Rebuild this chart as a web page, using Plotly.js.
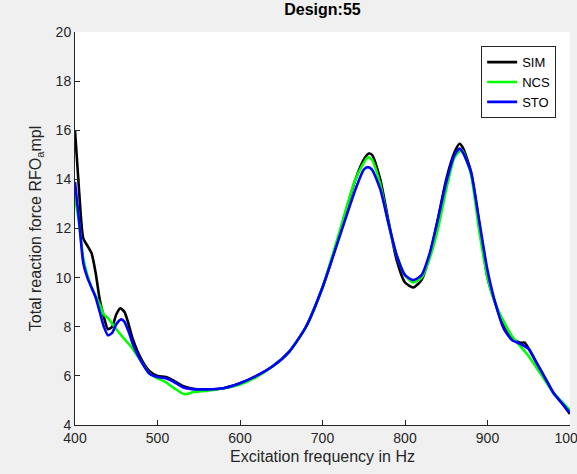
<!DOCTYPE html>
<html>
<head>
<meta charset="utf-8">
<script src="https://cdn.plot.ly/plotly-3.0.1.min.js"></script>
<style>html,body{margin:0;padding:0;background:#f0f0f0;overflow:hidden;}#chart{width:577px;height:474px;}</style>
</head>
<body>
<div id="chart"></div>
<script>
const freqSIM = [400,405,410,415,420,425,430,435,440,445,450,455,460,465,470,480,490,500,510,520,530,540,550,560,580,600,620,640,660,680,700,710,720,730,740,750,756,760,770,780,790,800,810,820,830,840,850,860,866,870,880,890,900,910,920,930,940,945,950,960,970,980,990,1000];
const valSIM  = [16.0,13.5,11.6,11.3,11.0,10.2,9.1,8.4,7.9,8.0,8.5,8.75,8.6,8.1,7.5,6.7,6.2,6.0,5.95,5.8,5.6,5.5,5.45,5.45,5.5,5.7,6.0,6.4,7.0,8.0,9.6,10.6,11.7,12.9,14.0,14.8,15.05,15.0,14.0,12.3,10.7,9.8,9.6,9.9,10.9,12.4,14.0,15.1,15.45,15.3,14.3,12.2,10.0,8.9,8.0,7.5,7.35,7.35,7.1,6.5,5.9,5.3,4.9,4.45];

const freqNCS = [400,405,410,415,420,430,435,440,450,460,470,480,490,500,510,520,533,545,560,580,600,620,640,660,680,700,720,740,755,760,770,780,790,800,810,820,830,840,850,860,868,870,880,890,900,910,920,930,940,950,960,970,980,990,1000];
const valNCS  = [13.3,12.2,10.8,10.1,9.6,8.9,8.5,8.35,7.9,7.5,7.1,6.6,6.1,5.9,5.75,5.5,5.25,5.35,5.4,5.5,5.65,5.95,6.4,7.0,8.0,9.6,11.8,14.0,14.9,14.8,13.8,12.2,10.9,10.1,9.8,10.0,10.8,12.0,13.6,14.9,15.2,15.15,14.2,11.9,10.0,8.9,8.2,7.6,7.2,6.8,6.3,5.8,5.3,4.95,4.6];

const freqSTO = [400,405,410,415,420,425,430,435,440,445,450,456,460,465,470,480,490,500,510,520,530,540,550,560,580,600,620,640,660,680,700,720,740,750,755,760,770,780,790,800,810,820,830,840,850,860,866,870,880,890,900,910,920,930,940,950,960,970,980,990,1000];
const valSTO  = [13.9,12.3,10.6,10.0,9.6,9.2,8.6,8.0,7.65,7.75,8.1,8.3,8.2,7.8,7.3,6.6,6.1,5.95,5.9,5.75,5.55,5.47,5.45,5.45,5.5,5.7,6.0,6.4,7.0,8.0,9.6,11.6,13.6,14.4,14.5,14.4,13.6,12.2,10.9,10.1,9.9,10.1,11.0,12.4,13.9,15.0,15.25,15.1,14.3,12.3,10.3,8.9,7.9,7.45,7.3,7.1,6.5,5.9,5.3,4.9,4.5];

const xTicks = [400,500,600,700,800,900,1000];
const yTicks = [4,6,8,10,12,14,16,18,20];

const FONT = 'Liberation Sans, Arial, Helvetica, sans-serif';
const mk = (x, y, name, color) => ({
  x: x, y: y, name: name, type: 'scatter', mode: 'lines',
  line: {color: color, width: 2.6, shape: 'spline', smoothing: 0.6}
});

const data = [
  mk(freqSIM, valSIM, 'SIM', '#000000'),
  mk(freqNCS, valNCS, 'NCS', '#00ff00'),
  mk(freqSTO, valSTO, 'STO', '#0000ff')
];

const axisCommon = {
  showgrid: false, zeroline: false, showline: true, linecolor: '#262626', linewidth: 1,
  ticks: 'inside', ticklen: 5, tickcolor: '#262626', tickwidth: 1,
  tickfont: {family: FONT, size: 14, color: '#262626'}, automargin: false
};

const layout = {
  width: 577, height: 474,
  paper_bgcolor: '#f0f0f0', plot_bgcolor: '#ffffff',
  margin: {l: 75, r: 7, t: 32, b: 49},
  font: {family: FONT, color: '#262626'},
  title: {text: '<b>Design:55</b>', font: {family: FONT, size: 16, color: '#000'}, x: 0.5, xref: 'paper', y: 0.981, yanchor: 'middle'},
  xaxis: Object.assign({}, axisCommon, {
    range: [400, 1000], tickvals: xTicks, ticktext: xTicks.map(String), ticklabeloverflow: 'allow',
    title: {text: 'Excitation frequency in Hz', font: {family: FONT, size: 16, color: '#262626'}, standoff: 6}
  }),
  yaxis: Object.assign({}, axisCommon, {
    range: [4, 20], tickvals: yTicks, ticktext: yTicks.map(String),
    title: {text: 'Total reaction force RFO<sub>a</sub>mpl', font: {family: FONT, size: 16, color: '#262626'}, standoff: 10}
  }),
  legend: {
    x: 0.972, xanchor: 'right', y: 0.964, yanchor: 'top',
    bgcolor: '#ffffff', bordercolor: '#262626', borderwidth: 1,
    font: {family: FONT, size: 13, color: '#000'}, itemwidth: 30, tracegroupgap: 0
  },
  showlegend: true
};

Plotly.newPlot('chart', data, layout, {displayModeBar: false, staticPlot: true});
</script>
</body>
</html>
